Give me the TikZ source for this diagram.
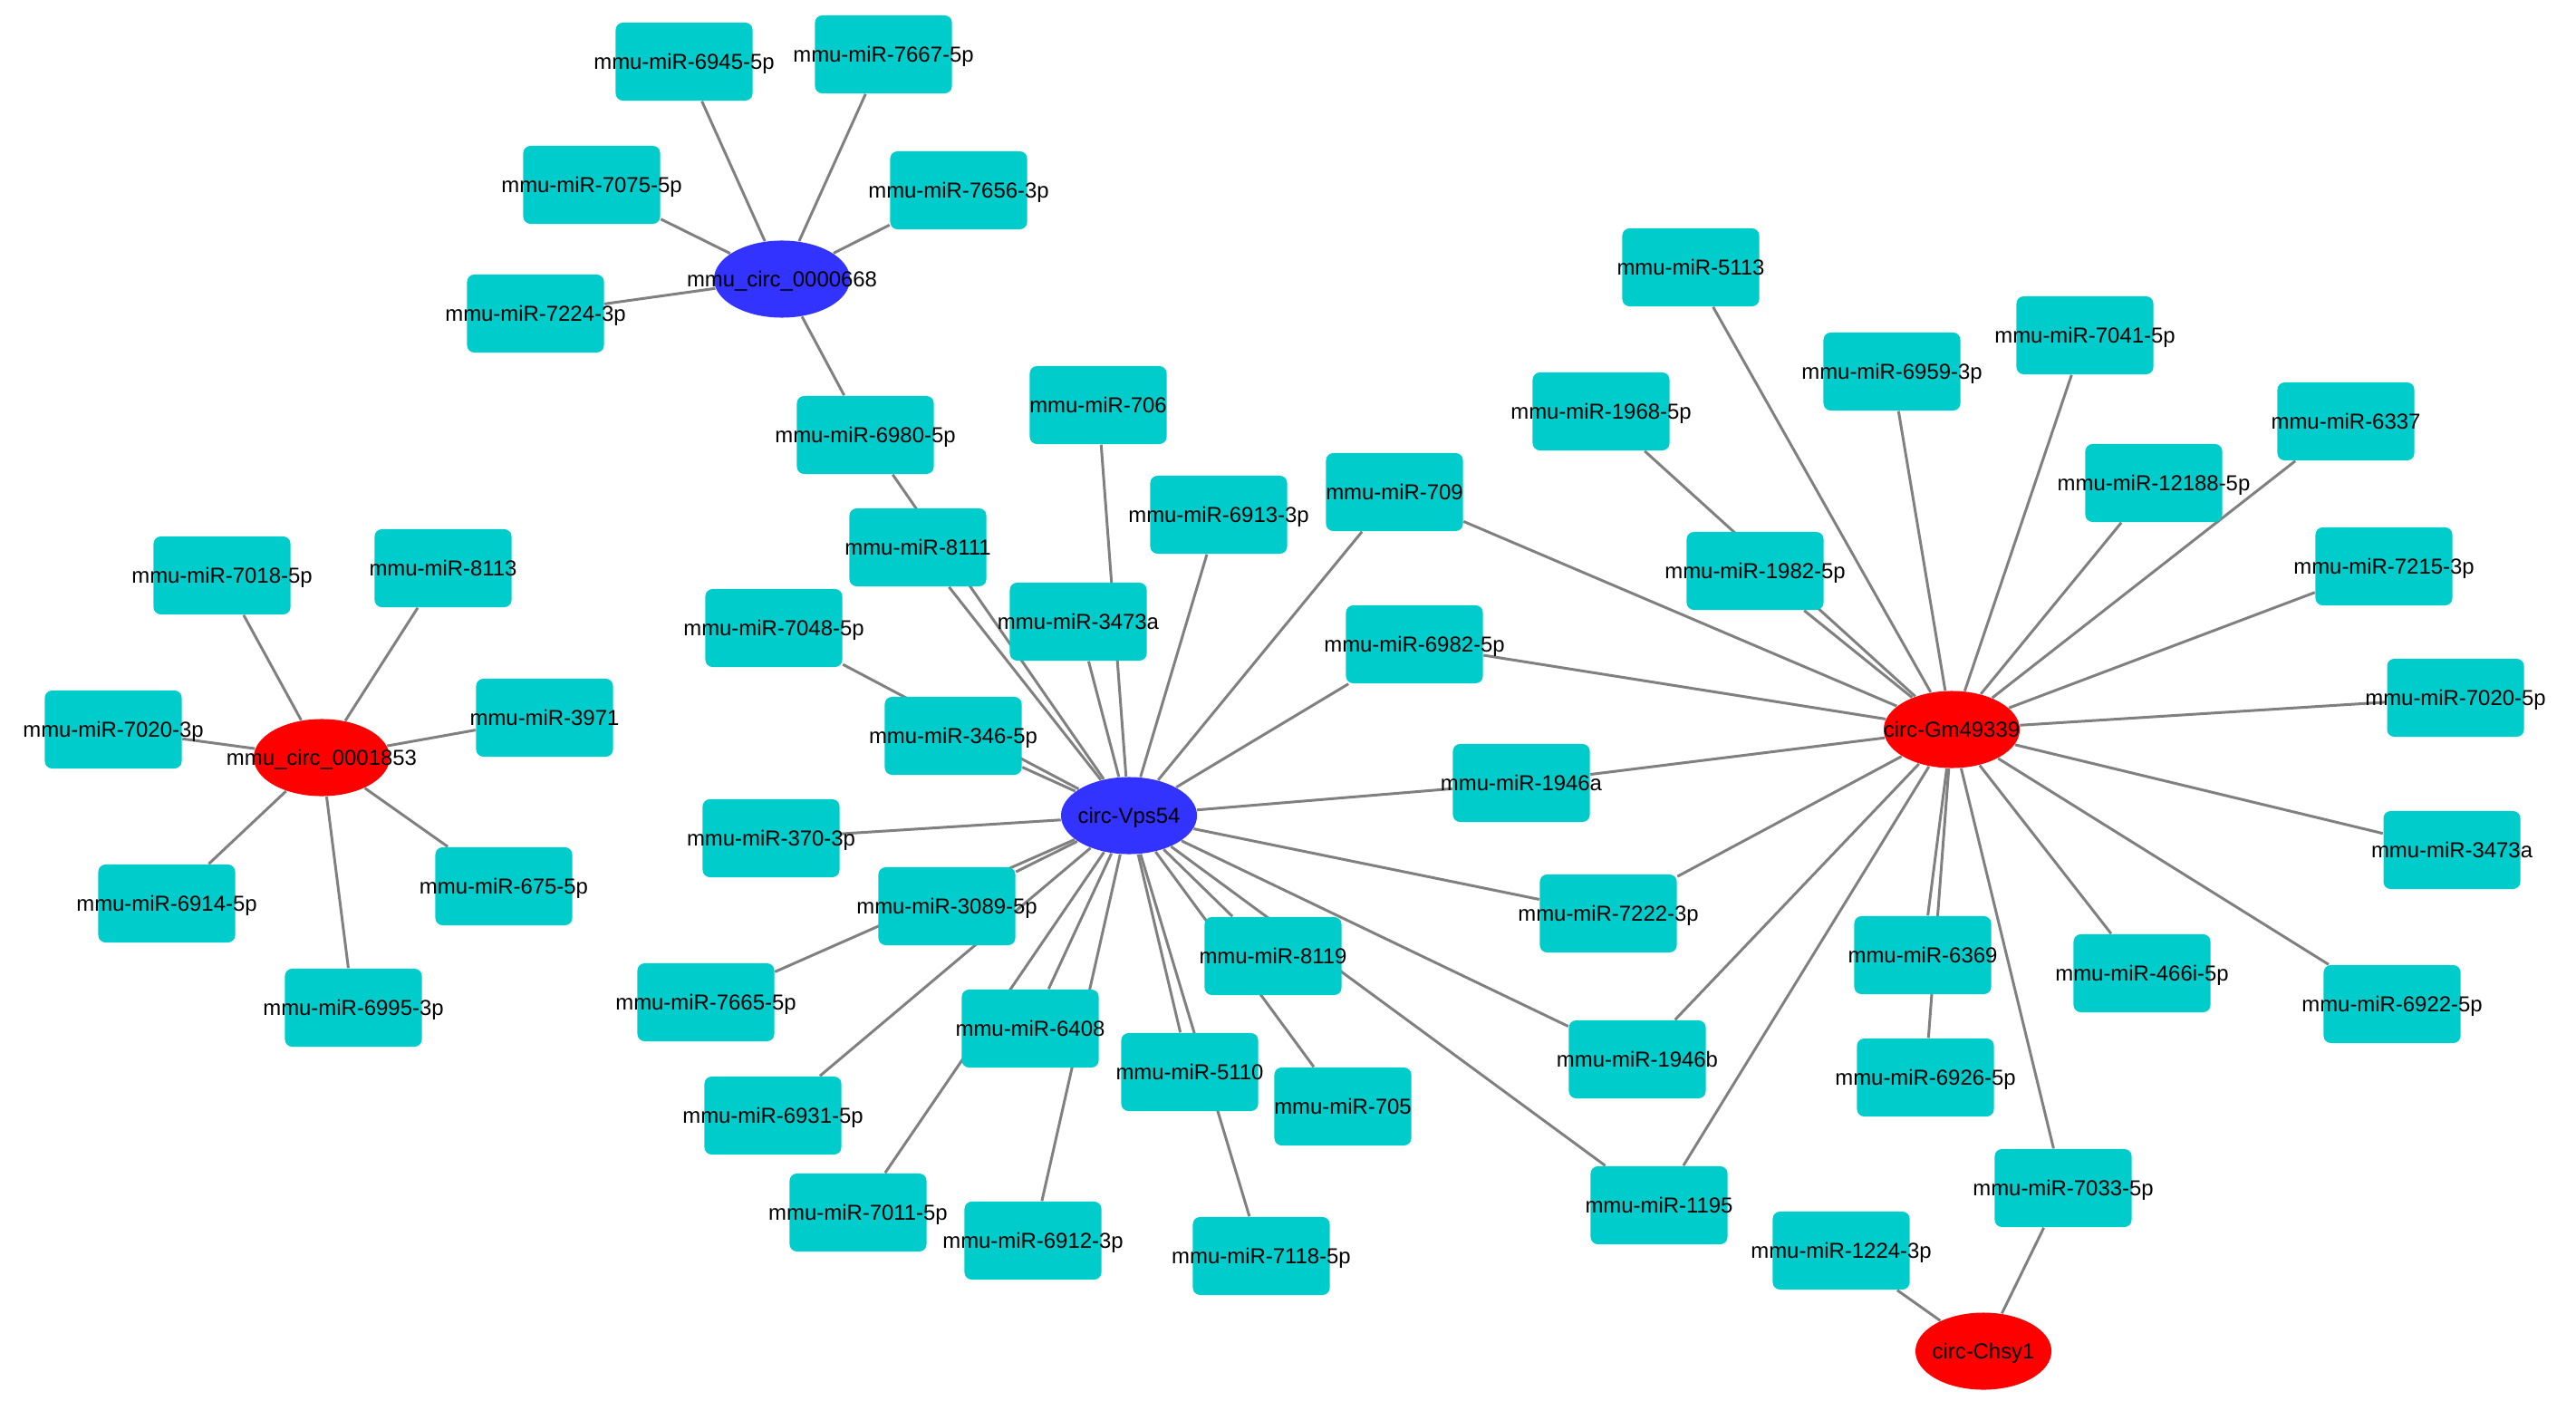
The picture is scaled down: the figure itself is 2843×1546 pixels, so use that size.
\documentclass[tikz,border=0pt]{standalone}
\usepackage{fontspec}
\setmainfont{Liberation Sans}
\usetikzlibrary{shapes.geometric,backgrounds}

\definecolor{mircyan}{RGB}{0,204,204}
\definecolor{circblue}{RGB}{51,51,255}
\definecolor{circred}{RGB}{255,0,0}
\definecolor{linkgray}{RGB}{128,128,128}

\newcommand{\nodetext}[1]{\makebox[0pt]{#1}}

\tikzset{
  mirna/.style={rectangle, rounded corners=0.08cm, fill=mircyan, minimum width=1.51cm, minimum height=0.86cm, inner sep=0pt, text height=1.71mm, text depth=0pt, font=\fontsize{6.8}{8}\selectfont},
  circrna/.style={ellipse, minimum width=1.5cm, minimum height=0.85cm, inner sep=0pt, text height=1.71mm, text depth=0pt, font=\fontsize{6.8}{8}\selectfont},
  link/.style={draw=linkgray, line width=0.85pt}
}

\begin{document}
\begin{tikzpicture}[x=0.01cm, y=-0.01cm]
  \useasboundingbox (0, 0) rectangle (2843, 1546);
  % Nodes
  \node (c668) [circrna, fill=circblue] at (863, 308) {\nodetext{mmu\_circ\_0000668}};
  \node (c1853) [circrna, fill=circred] at (355, 836) {\nodetext{mmu\_circ\_0001853}};
  \node (vps54) [circrna, fill=circblue] at (1246, 900) {\nodetext{circ-Vps54}};
  \node (gm49339) [circrna, fill=circred] at (2154, 805) {\nodetext{circ-Gm49339}};
  \node (chsy1) [circrna, fill=circred] at (2189, 1491) {\nodetext{circ-Chsy1}};

  \node (m6945) [mirna] at (755, 68) {\nodetext{mmu-miR-6945-5p}};
  \node (m7667) [mirna] at (975, 60) {\nodetext{mmu-miR-7667-5p}};
  \node (m7075) [mirna] at (653, 204) {\nodetext{mmu-miR-7075-5p}};
  \node (m7656) [mirna] at (1058, 210) {\nodetext{mmu-miR-7656-3p}};
  \node (m7224) [mirna] at (591, 346) {\nodetext{mmu-miR-7224-3p}};
  \node (m6980) [mirna] at (955, 480) {\nodetext{mmu-miR-6980-5p}};

  \node (m7018) [mirna] at (245, 635) {\nodetext{mmu-miR-7018-5p}};
  \node (m8113) [mirna] at (489, 627) {\nodetext{mmu-miR-8113}};
  \node (m7020b) [mirna] at (125, 805) {\nodetext{mmu-miR-7020-3p}};
  \node (m3971) [mirna] at (601, 792) {\nodetext{mmu-miR-3971}};
  \node (m6914) [mirna] at (184, 997) {\nodetext{mmu-miR-6914-5p}};
  \node (m675) [mirna] at (556, 978) {\nodetext{mmu-miR-675-5p}};
  \node (m6995) [mirna] at (390, 1112) {\nodetext{mmu-miR-6995-3p}};

  \node (m706) [mirna] at (1212, 447) {\nodetext{mmu-miR-706}};
  \node (m6913) [mirna] at (1345, 568) {\nodetext{mmu-miR-6913-3p}};
  \node (m709) [mirna] at (1539, 543) {\nodetext{mmu-miR-709}};
  \node (m8111) [mirna] at (1013, 604) {\nodetext{mmu-miR-8111}};
  \node (m3473x) [mirna] at (1190, 686) {\nodetext{mmu-miR-3473a}};
  \node (m7048) [mirna] at (854, 693) {\nodetext{mmu-miR-7048-5p}};
  \node (m6982) [mirna] at (1561, 711) {\nodetext{mmu-miR-6982-5p}};
  \node (m346) [mirna] at (1052, 812) {\nodetext{mmu-miR-346-5p}};
  \node (m1946a) [mirna] at (1679, 864) {\nodetext{mmu-miR-1946a}};
  \node (m370) [mirna] at (851, 925) {\nodetext{mmu-miR-370-3p}};
  \node (m3089) [mirna] at (1045, 1000) {\nodetext{mmu-miR-3089-5p}};
  \node (m7665) [mirna] at (779, 1106) {\nodetext{mmu-miR-7665-5p}};
  \node (m6931) [mirna] at (853, 1231) {\nodetext{mmu-miR-6931-5p}};
  \node (m7011) [mirna] at (947, 1338) {\nodetext{mmu-miR-7011-5p}};
  \node (m6408) [mirna] at (1137, 1135) {\nodetext{mmu-miR-6408}};
  \node (m6912) [mirna] at (1140, 1369) {\nodetext{mmu-miR-6912-3p}};
  \node (m5110) [mirna] at (1313, 1183) {\nodetext{mmu-miR-5110}};
  \node (m7118) [mirna] at (1392, 1386) {\nodetext{mmu-miR-7118-5p}};
  \node (m8119) [mirna] at (1405, 1055) {\nodetext{mmu-miR-8119}};
  \node (m705) [mirna] at (1482, 1221) {\nodetext{mmu-miR-705}};
  \node (m1946b) [mirna] at (1807, 1169) {\nodetext{mmu-miR-1946b}};
  \node (m1195) [mirna] at (1831, 1330) {\nodetext{mmu-miR-1195}};
  \node (m7222) [mirna] at (1775, 1008) {\nodetext{mmu-miR-7222-3p}};

  \node (m5113) [mirna] at (1866, 295) {\nodetext{mmu-miR-5113}};
  \node (m1968) [mirna] at (1767, 454) {\nodetext{mmu-miR-1968-5p}};
  \node (m1982) [mirna] at (1937, 630) {\nodetext{mmu-miR-1982-5p}};
  \node (m6959) [mirna] at (2088, 410) {\nodetext{mmu-miR-6959-3p}};
  \node (m7041) [mirna] at (2301, 370) {\nodetext{mmu-miR-7041-5p}};
  \node (m6337) [mirna] at (2589, 465) {\nodetext{mmu-miR-6337}};
  \node (m12188) [mirna] at (2377, 533) {\nodetext{mmu-miR-12188-5p}};
  \node (m7215) [mirna] at (2631, 625) {\nodetext{mmu-miR-7215-3p}};
  \node (m7020a) [mirna] at (2710, 770) {\nodetext{mmu-miR-7020-5p}};
  \node (m3473b) [mirna] at (2706, 938) {\nodetext{mmu-miR-3473a}};
  \node (m6922) [mirna] at (2640, 1108) {\nodetext{mmu-miR-6922-5p}};
  \node (m466i) [mirna] at (2364, 1074) {\nodetext{mmu-miR-466i-5p}};
  \node (m6369) [mirna] at (2122, 1054) {\nodetext{mmu-miR-6369}};
  \node (m6926) [mirna] at (2125, 1189) {\nodetext{mmu-miR-6926-5p}};
  \node (m7033) [mirna] at (2277, 1311) {\nodetext{mmu-miR-7033-5p}};
  \node (m1224) [mirna] at (2032, 1380) {\nodetext{mmu-miR-1224-3p}};

  % Links
  \begin{scope}[on background layer]
    \draw[link] (c668) -- (m6945);
    \draw[link] (c668) -- (m7667);
    \draw[link] (c668) -- (m7075);
    \draw[link] (c668) -- (m7656);
    \draw[link] (c668) -- (m7224);
    \draw[link] (c668) -- (m6980);

    \draw[link] (c1853) -- (m7018);
    \draw[link] (c1853) -- (m8113);
    \draw[link] (c1853) -- (m7020b);
    \draw[link] (c1853) -- (m3971);
    \draw[link] (c1853) -- (m6914);
    \draw[link] (c1853) -- (m675);
    \draw[link] (c1853) -- (m6995);

    \draw[link] (vps54) -- (m6980);
    \draw[link] (vps54) -- (m706);
    \draw[link] (vps54) -- (m6913);
    \draw[link] (vps54) -- (m709);
    \draw[link] (vps54) -- (m8111);
    \draw[link] (vps54) -- (m3473x);
    \draw[link] (vps54) -- (m7048);
    \draw[link] (vps54) -- (m346);
    \draw[link] (vps54) -- (m6982);
    \draw[link] (vps54) -- (m1946a);
    \draw[link] (vps54) -- (m370);
    \draw[link] (vps54) -- (m3089);
    \draw[link] (vps54) -- (m7665);
    \draw[link] (vps54) -- (m6931);
    \draw[link] (vps54) -- (m6408);
    \draw[link] (vps54) -- (m7011);
    \draw[link] (vps54) -- (m6912);
    \draw[link] (vps54) -- (m5110);
    \draw[link] (vps54) -- (m7118);
    \draw[link] (vps54) -- (m8119);
    \draw[link] (vps54) -- (m705);
    \draw[link] (vps54) -- (m1946b);
    \draw[link] (vps54) -- (m1195);
    \draw[link] (vps54) -- (m7222);

    \draw[link] (gm49339) -- (m5113);
    \draw[link] (gm49339) -- (m1968);
    \draw[link] (gm49339) -- (m1982);
    \draw[link] (gm49339) -- (m6959);
    \draw[link] (gm49339) -- (m7041);
    \draw[link] (gm49339) -- (m6337);
    \draw[link] (gm49339) -- (m12188);
    \draw[link] (gm49339) -- (m7215);
    \draw[link] (gm49339) -- (m7020a);
    \draw[link] (gm49339) -- (m3473b);
    \draw[link] (gm49339) -- (m6922);
    \draw[link] (gm49339) -- (m466i);
    \draw[link] (gm49339) -- (m6369);
    \draw[link] (gm49339) -- (m6926);
    \draw[link] (gm49339) -- (m7033);
    \draw[link] (gm49339) -- (m709);
    \draw[link] (gm49339) -- (m6982);
    \draw[link] (gm49339) -- (m1946a);
    \draw[link] (gm49339) -- (m7222);
    \draw[link] (gm49339) -- (m1946b);
    \draw[link] (gm49339) -- (m1195);

    \draw[link] (chsy1) -- (m1224);
    \draw[link] (chsy1) -- (m7033);
  \end{scope}
\end{tikzpicture}
\end{document}
